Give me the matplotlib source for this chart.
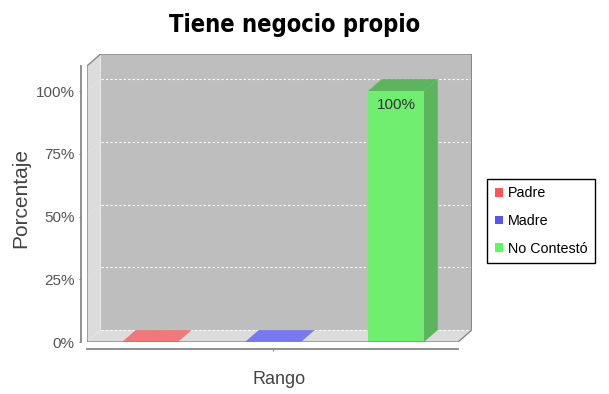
import matplotlib.pyplot as plt
from matplotlib.patches import Polygon, Patch

# datos
series = ['Padre', 'Madre', 'No Contestó']
valores = [0, 0, 100]
colores = ['#F07878', '#7878F0', '#70EE70']
colores_leyenda = ['#FF5555', '#5555FF', '#55FF55']
lados = ['#B85C5C', '#5C5CB8', '#5CB55C']
ticks_y = [0, 25, 50, 75, 100]

# geometria del grafico 3d (unidades de datos)
x0, x1 = -0.512, 2.504
y_top = 110
dx, dy = 0.111, 4.75
ancho = 0.455

fig = plt.figure(figsize=(6.09, 3.94), dpi=100)
ax = fig.add_axes([87/609, 52/394, 384.7/609, 288/394])
ax.set_xlim(x0, x1 + dx)
ax.set_ylim(0, y_top + dy)

# paredes
ax.add_patch(Polygon([(x0+dx, dy), (x1+dx, dy), (x1+dx, y_top+dy), (x0+dx, y_top+dy)],
                     closed=True, fc='#BEBEBE', ec='none', zorder=1))
ax.add_patch(Polygon([(x0, 0), (x0+dx, dy), (x0+dx, y_top+dy), (x0, y_top)],
                     closed=True, fc='#DCDCDC', ec='none', zorder=1))
ax.add_patch(Polygon([(x0, 0), (x1, 0), (x1+dx, dy), (x0+dx, dy)],
                     closed=True, fc='#DCDCDC', ec='none', zorder=1))

# lineas de la grilla
for v in ticks_y:
    ax.plot([x0+dx, x1+dx], [v+dy, v+dy], color='white', lw=0.8,
            dashes=(2, 2), zorder=2)
    ax.plot([x0, x0+dx], [v, v+dy], color='#E8E8E8', lw=0.5,
            dashes=(2, 2), zorder=2)

# barras
for i, (v, c, s) in enumerate(zip(valores, colores, lados)):
    a, b = i - ancho/2, i + ancho/2
    if v > 0:
        ax.add_patch(Polygon([(a, 0), (b, 0), (b, v), (a, v)], closed=True,
                             fc=c, ec='none', zorder=4))
        ax.add_patch(Polygon([(b, 0), (b+dx, dy), (b+dx, v+dy), (b, v)], closed=True,
                             fc=s, ec='none', zorder=3))
    ax.add_patch(Polygon([(a, v), (b, v), (b+dx, v+dy), (a+dx, v+dy)], closed=True,
                         fc=s if v > 0 else c, ec='none', zorder=3))
    if v > 0:
        ax.annotate('{:d}%'.format(v), (i, v), xytext=(0, -10),
                    textcoords='offset points', ha='center', va='center',
                    fontsize=11, color='#333333', family='Liberation Sans', zorder=5)

# contorno del area
ax.add_patch(Polygon([(x0, 0), (x1, 0), (x1+dx, dy), (x1+dx, y_top+dy),
                      (x0+dx, y_top+dy), (x0, y_top)], closed=True,
                     fc='none', ec='#888888', lw=1, zorder=6))

# ejes
for lado in ['top', 'right']:
    ax.spines[lado].set_visible(False)
ax.spines['left'].set_position(('outward', 4))
ax.spines['left'].set_bounds(0, y_top)
ax.spines['bottom'].set_position(('outward', 5))
ax.spines['bottom'].set_bounds(x0, x1)
for lado in ['left', 'bottom']:
    ax.spines[lado].set_color('#888888')
    ax.spines[lado].set_linewidth(1.3)
ax.set_yticks(ticks_y)
ax.set_yticklabels(['{}%'.format(t) for t in ticks_y])
ax.set_xticks([1])
ax.set_xticklabels([''])
ax.tick_params(axis='both', length=1.5, color='#888888', labelcolor='#555555',
               labelsize=11, pad=3.5)
for t in ax.get_yticklabels():
    t.set_family('Liberation Sans')

fig.text(21/609, 1 - 198/394, 'Porcentaje', rotation=90, ha='center', va='center',
         fontsize=15, color='#444444', family='Liberation Sans')
fig.text(279/609, 1 - 380/394, 'Rango', ha='center', va='center',
         fontsize=13, color='#444444', family='Liberation Sans')
fig.text(295/609, 1 - 25/394, 'Tiene negocio propio', ha='center', va='center',
         fontsize=17, fontweight='bold', fontstretch='condensed', family='DejaVu Sans')

handles = [Patch(fc=c, ec='none') for c in colores_leyenda]
leg = fig.legend(handles, series, loc='center left', bbox_to_anchor=(487/609, 1 - 221/394),
                 frameon=True, fancybox=False, framealpha=1, edgecolor='black',
                 prop={'family': 'Liberation Sans', 'size': 10.3},
                 handlelength=0.55, handleheight=0.55, handletextpad=0.35,
                 labelspacing=0.95, borderpad=0.55, borderaxespad=0)
leg.get_frame().set_linewidth(1)

fig.savefig('out.png', dpi=100)
